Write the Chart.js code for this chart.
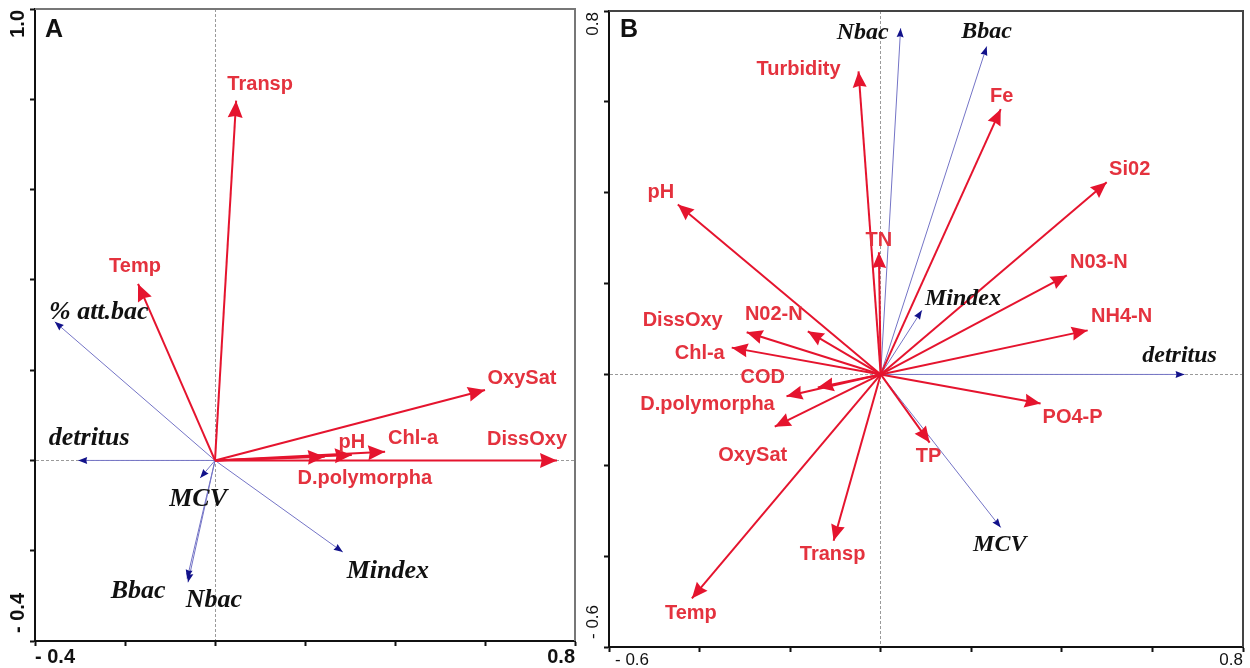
<!DOCTYPE html>
<html>
<head>
<meta charset="utf-8">
<script src="https://cdn.jsdelivr.net/npm/chart.js@4.4.1/dist/chart.umd.min.js"></script>
<style>
  html, body { margin: 0; padding: 0; background: #fff; }
  #wrap { position: relative; width: 1250px; height: 668px; overflow: hidden; }
  canvas { position: absolute; top: 0; }
  #chartA { left: 0; }
  #chartB { left: 578px; }
</style>
</head>
<body>
<div id="wrap">
  <canvas id="chartA" width="578" height="668"></canvas>
  <canvas id="chartB" width="672" height="668"></canvas>
</div>
<script>
// ---- Panel A data (arrow tips in axis units) ----
const A_ENV_NAMES = ['Transp', 'Temp', 'OxySat', 'DissOxy', 'Chl-a', 'pH', 'D.polymorpha'];
const A_ENV_X = [0.047, -0.171, 0.600, 0.760, 0.378, 0.304, 0.244];
const A_ENV_Y = [0.797, 0.391, 0.156, 0.000, 0.019, 0.012, 0.008];
const A_SPE_NAMES = ['% att.bac', 'detritus', 'MCV', 'Nbac', 'Bbac', 'Mindex'];
const A_SPE_X = [-0.356, -0.304, -0.033, -0.060, -0.062, 0.284];
const A_SPE_Y = [0.307, 0.000, -0.039, -0.270, -0.262, -0.203];
const A_X_TICKS = ['- 0.4', '0.8'];
const A_Y_TICKS = ['- 0.4', '1.0'];

// ---- Panel B data ----
const B_ENV_NAMES = ['Turbidity', 'TN', 'Fe', 'Si02', 'N03-N', 'NH4-N', 'pH', 'DissOxy', 'N02-N',
  'Chl-a', 'COD', 'D.polymorpha', 'OxySat', 'Transp', 'Temp', 'TP', 'PO4-P'];
const B_ENV_X = [-0.049, -0.004, 0.265, 0.499, 0.411, 0.457, -0.448, -0.296, -0.161,
  -0.329, -0.139, -0.208, -0.234, -0.104, -0.417, 0.108, 0.353];
const B_ENV_Y = [0.667, 0.269, 0.584, 0.423, 0.218, 0.097, 0.374, 0.093, 0.095,
  0.059, -0.029, -0.048, -0.115, -0.366, -0.493, -0.150, -0.064];
const B_SPE_NAMES = ['Nbac', 'Bbac', 'Mindex', 'detritus', 'MCV'];
const B_SPE_X = [0.044, 0.234, 0.091, 0.671, 0.265];
const B_SPE_Y = [0.762, 0.722, 0.141, 0.000, -0.337];
const B_X_TICKS = ['- 0.6', '0.8'];
const B_Y_TICKS = ['- 0.6', '0.8'];

// label placement, pixel offsets from arrow tip (layout only)
const A_ENV_LABEL_OFF = [[24, -16], [-3, -17], [37, -12], [-30, -21], [28, -13], [0, -13], [40, 22]];
const A_SPE_LABEL_OFF = [[44, -10], [11, -22], [-2, 21], [26, 18], [-49, 13], [45, 19]];
const B_ENV_LABEL_OFF = [[-60, -2], [0, -12], [1, -13], [23, -13], [32, -13], [34, -14], [-17, -12],
  [-64, -12], [-34, -17], [-32, 6], [-55, -10], [-79, 8], [-22, 29], [-1, 14], [-1, 15], [-1, 14], [32, 14]];
const B_SPE_LABEL_OFF = [[-38, 5], [0, -15], [41, -12], [-5, -19], [-1, 17]];

const RED = '#e5142e';
const RED_TEXT = '#e4323e';
const BLUE_LINE = '#7474c6';
const BLUE_HEAD = '#12128a';

function arrows(names, xs, ys, offs, kind) {
  return names.map((n, i) => ({
    label: n,
    data: [{ x: 0, y: 0 }, { x: xs[i], y: ys[i] }],
    showLine: true,
    borderColor: kind === 'env' ? RED : BLUE_LINE,
    borderWidth: kind === 'env' ? 2 : 1,
    pointRadius: 0,
    kind,
    labelOff: offs[i],
  }));
}

const biplot = {
  id: 'biplot',
  afterDatasetsDraw(chart, args, o) {
    const ctx = chart.ctx;
    const ca = chart.chartArea;
    // frame top + right
    ctx.save();
    ctx.strokeStyle = o.frameColor;
    ctx.lineWidth = 2;
    ctx.beginPath();
    ctx.moveTo(ca.left, ca.top); ctx.lineTo(ca.right, ca.top); ctx.lineTo(ca.right, ca.bottom);
    ctx.stroke();
    ctx.restore();

    chart.data.datasets.forEach((ds, i) => {
      const meta = chart.getDatasetMeta(i);
      const p0 = meta.data[0], p1 = meta.data[1];
      const ang = Math.atan2(p1.y - p0.y, p1.x - p0.x);
      const env = ds.kind === 'env';
      const len = env ? o.envHead[0] : 9, w = env ? o.envHead[1] : 3.5;
      ctx.save();
      ctx.translate(p1.x, p1.y);
      ctx.rotate(ang);
      ctx.beginPath();
      ctx.moveTo(0, 0); ctx.lineTo(-len, -w); ctx.lineTo(-len * 0.9, 0); ctx.lineTo(-len, w);
      ctx.closePath();
      ctx.fillStyle = env ? RED : BLUE_HEAD;
      ctx.fill();
      ctx.restore();
    });
    chart.data.datasets.forEach((ds, i) => {
      const p1 = chart.getDatasetMeta(i).data[1];
      const env = ds.kind === 'env';
      ctx.save();
      ctx.font = env ? o.envFont : o.speFont;
      ctx.fillStyle = env ? RED_TEXT : '#111';
      ctx.textAlign = 'center';
      ctx.textBaseline = 'middle';
      ctx.fillText(ds.label, p1.x + ds.labelOff[0], p1.y + ds.labelOff[1]);
      ctx.restore();
    });
  },
  afterDraw(chart, args, o) {
    const ctx = chart.ctx;
    const sx = chart.scales.x, sy = chart.scales.y;
    ctx.save();
    ctx.fillStyle = '#111';
    ctx.font = o.tickFont;
    ctx.textBaseline = 'middle';
    const yb = sx.bottom - sx.height + o.xTickDy;
    ctx.textAlign = 'left';
    ctx.fillText(o.xTicks[0], sx.getPixelForValue(sx.min) + o.xTickDx, yb);
    ctx.textAlign = 'right';
    ctx.fillText(o.xTicks[1], sx.getPixelForValue(sx.max), yb);
    // rotated y labels
    const yx = sy.right - o.yTickDx;
    ctx.save();
    ctx.translate(yx, sy.getPixelForValue(sy.max) + 1);
    ctx.rotate(-Math.PI / 2);
    ctx.textAlign = 'right';
    ctx.fillText(o.yTicks[1], 0, 0);
    ctx.restore();
    ctx.save();
    ctx.translate(yx, sy.getPixelForValue(sy.min) - 8);
    ctx.rotate(-Math.PI / 2);
    ctx.textAlign = 'left';
    ctx.fillText(o.yTicks[0], 0, 0);
    ctx.restore();
    // panel letter
    ctx.font = 'bold 25px "Liberation Sans"';
    ctx.textAlign = 'left';
    ctx.textBaseline = 'alphabetic';
    ctx.fillText(o.letter, chart.chartArea.left + o.letterDx, 37);
    ctx.restore();
  }
};

function axis(min, max, size, horizontal) {
  return {
    type: 'linear', min, max,
    ticks: { stepSize: 0.2, display: false },
    grid: {
      drawOnChartArea: true,
      color: c => (Math.abs(c.tick.value) < 1e-9 ? '#9a9a9a' : 'rgba(0,0,0,0)'),
      lineWidth: 1,
      tickColor: '#111',
      tickWidth: 2,
      tickLength: 5,
    },
    border: { color: '#111', width: 2, dash: [3, 2] },
    afterFit: s => { if (horizontal) s.height = size; else s.width = size; },
  };
}

function makeChart(id, datasets, xr, yr, pad, xh, yw, plug) {
  return new Chart(document.getElementById(id), {
    type: 'scatter',
    data: { datasets },
    options: {
      responsive: false, animation: false, events: [], devicePixelRatio: 1,
      layout: { padding: pad },
      elements: { line: { tension: 0 } },
      scales: { x: axis(xr[0], xr[1], xh, true), y: axis(yr[0], yr[1], yw, false) },
      plugins: { legend: { display: false }, tooltip: { enabled: false }, biplot: plug },
    },
    plugins: [biplot],
  });
}

makeChart('chartA',
  arrows(A_ENV_NAMES, A_ENV_X, A_ENV_Y, A_ENV_LABEL_OFF, 'env')
    .concat(arrows(A_SPE_NAMES, A_SPE_X, A_SPE_Y, A_SPE_LABEL_OFF, 'spe')),
  [-0.4, 0.8], [-0.4, 1.0], { top: 9, right: 3, left: 0, bottom: 0 }, 27, 35, {
    envFont: 'bold 20px "Liberation Sans"', speFont: 'bold italic 26px "Liberation Serif"',
    tickFont: 'bold 20px "Liberation Sans"', envHead: [17, 7.5], frameColor: '#777',
    xTicks: A_X_TICKS, yTicks: A_Y_TICKS, xTickDx: 0, xTickDy: 16, yTickDx: 17, letter: 'A', letterDx: 10,
  });

makeChart('chartB',
  arrows(B_ENV_NAMES, B_ENV_X, B_ENV_Y, B_ENV_LABEL_OFF, 'env')
    .concat(arrows(B_SPE_NAMES, B_SPE_X, B_SPE_Y, B_SPE_LABEL_OFF, 'spe')),
  [-0.6, 0.8], [-0.6, 0.8], { top: 11, right: 7, left: 0, bottom: 0 }, 21, 31, {
    envFont: 'bold 20px "Liberation Sans"', speFont: 'bold italic 24px "Liberation Serif"',
    tickFont: '17px "Liberation Sans"', envHead: [16, 7], frameColor: '#444',
    xTicks: B_X_TICKS, yTicks: B_Y_TICKS, xTickDx: 6, xTickDy: 13, yTickDx: 16, letter: 'B', letterDx: 11,
  });
</script>
</body>
</html>
